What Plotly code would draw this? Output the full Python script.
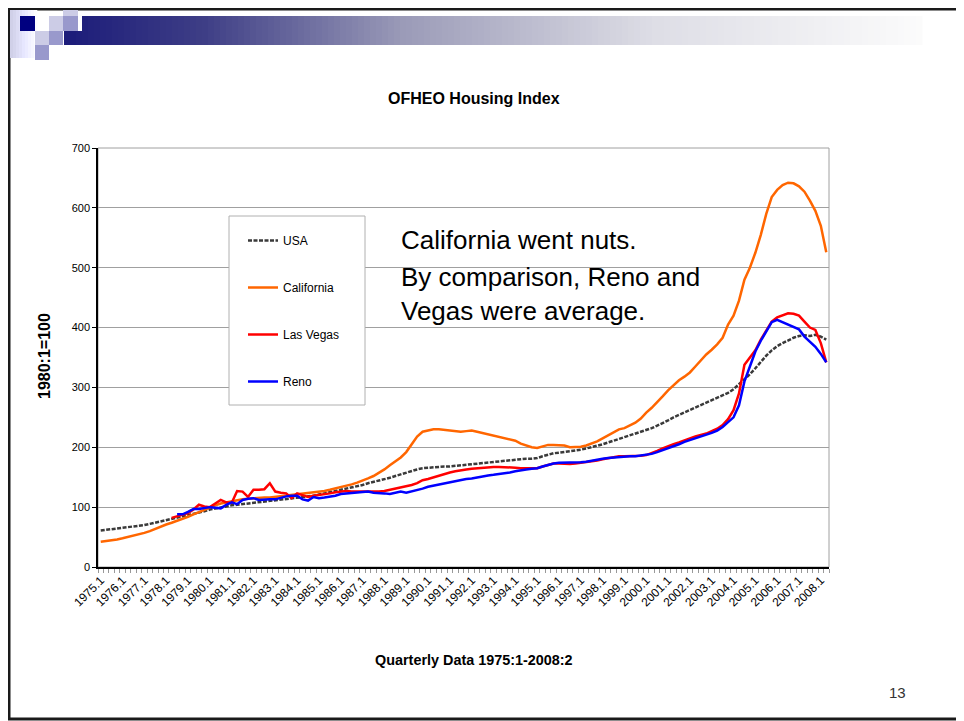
import plotly.graph_objects as go

# the page puts the plot div 8px in from the top-left corner
OFF = 8
W, H = 964 - OFF, 721 - OFF

# quarterly labels 1975.1 ... 2008.2
quarters = [f"{y}.{q}" for y in range(1975, 2009) for q in range(1, 5)][:134]

usa = [61, 62, 63, 64, 65, 66, 67, 68, 70, 72, 74, 76, 78, 80, 82, 84,
       86, 88, 90, 93, 96, 98, 100, 101, 103, 104, 105, 106, 107, 108, 109, 110,
       112, 113, 114, 115, 116, 117, 118, 119, 121, 123, 124, 126, 128, 130, 132, 134,
       137, 140, 142, 145, 147, 149, 152, 155, 157, 160, 163, 165, 166, 167, 167, 168,
       168, 169, 170, 171, 172, 173, 173, 174, 175, 176, 177, 178, 179, 180, 181, 181,
       182, 185, 188, 190, 191, 192, 193, 194, 196, 198, 200, 202, 205, 208, 211, 213,
       216, 219, 222, 225, 228, 232, 236, 240, 245, 250, 254, 258, 262, 266, 270, 274,
       278, 282, 286, 291, 297, 305, 313, 322, 332, 343, 353, 362, 369, 374, 379, 383,
       386, 387, 386, 388, 385, 380]

california = [42, 43, 44, 46, 48, 50, 52, 54, 57, 60, 64, 68, 71, 74, 77, 80,
              84, 88, 92, 96, 100, 103, 106, 108, 110, 112, 113, 114, 115, 115, 116, 116,
              117, 118, 119, 120, 121, 122, 123, 124, 125, 127, 129, 131, 133, 135, 138, 141,
              144, 148, 152, 157, 163, 170, 176, 183, 192, 205, 218, 226, 228, 230, 230, 229,
              228, 227, 226, 227, 228, 226, 224, 222, 220, 217, 215, 213, 211, 206, 203, 200,
              199, 202, 204, 204, 204, 203, 200, 200, 201, 203, 206, 210, 215, 220, 226, 230,
              232, 236, 241, 248, 258, 266, 275, 285, 295, 304, 312, 318, 325, 335, 345, 355,
              363, 372, 383, 405, 420, 445, 480, 500, 525, 555, 590, 618, 630, 638, 642, 641,
              636, 627, 612, 595, 570, 526]

las_vegas = [None] * 13 + [
    82, 85, 88, 90, 96, 104, 101, 100, 106, 112, 108, 107, 127, 126, 117, 129,
    129, 130, 140, 126, 124, 123, 115, 123, 120, 117, 119, 120, 121, 123, 125, 126,
    127, 126, 126, 126, 125, 126, 126, 127, 129, 130, 132, 134, 137, 140, 145, 147,
    150, 153, 156, 158, 160, 162, 163, 164, 165, 166, 166, 167, 167, 167, 166, 166,
    165, 165, 165, 165, 168, 171, 173, 173, 172, 172, 173, 174, 175, 176, 178, 180,
    182, 184, 185, 185, 185, 185, 186, 187, 190, 194, 198, 202, 205, 208, 212, 215,
    218, 220, 223, 227, 231, 237, 247, 262, 290, 338, 350, 362, 380, 395, 410, 417,
    421, 424, 423, 420, 410, 400, 396, 374, 342]

reno = [None] * 14 + [
    88, 88, 92, 97, 97, 98, 100, 99, 98, 104, 108, 105, 112, 114, 115, 112,
    113, 113, 113, 116, 118, 119, 119, 113, 111, 117, 115, 116, 117, 119, 122, 123,
    124, 124, 126, 126, 124, 124, 123, 122, 124, 126, 124, 126, 129, 131, 134, 136,
    138, 140, 141, 143, 145, 147, 148, 150, 151, 153, 154, 155, 157, 158, 160, 162,
    163, 164, 165, 168, 171, 173, 174, 174, 174, 174, 175, 176, 178, 180, 181, 182,
    183, 184, 185, 185, 185, 186, 187, 189, 192, 195, 198, 201, 205, 209, 212, 215,
    218, 220, 224, 228, 234, 242, 250, 270, 310, 335, 360, 378, 393, 409, 413, 409,
    405, 402, 397, 385, 377, 368, 356, 342]

series = [
    ("USA", usa, "#3a3a3a", "4px,1.5px"),
    ("California", california, "#FF6600", "solid"),
    ("Las Vegas", las_vegas, "#FF0000", "solid"),
    ("Reno", reno, "#0000FF", "solid"),
]

FONT = "Arial, Liberation Sans, sans-serif"


def px(x):
    # window pixel -> paper fraction
    return (x - OFF) / W


def py(y):
    return 1 - (y - OFF) / H


xs = list(range(len(quarters)))

fig = go.Figure()
for name, vals, color, dash in series:
    fig.add_trace(go.Scatter(
        x=xs, y=vals, mode="lines", name=name, legendgroup=name,
        line=dict(color=color, width=2.5, dash=dash),
        connectgaps=False,
    ))

tick_idx = [i for i, q in enumerate(quarters) if q.endswith(".1")]

shapes = []
# slide frame
shapes.append(dict(type="rect", xref="paper", yref="paper",
                   x0=px(9), x1=px(962), y0=py(719), y1=py(9),
                   line=dict(color="#1a1a1a", width=3)))

# header gradient bar (drawn as thin strips)
stops = [(64, (28, 28, 122)), (200, (62, 62, 134)), (400, (155, 155, 184)),
         (650, (222, 222, 230)), (920, (252, 252, 252))]
step = 6
x = 64
while x < 920:
    for (a, ca), (b, cb) in zip(stops[:-1], stops[1:]):
        if a <= x < b:
            t = (x - a) / (b - a)
            c = tuple(int(ca[k] + t * (cb[k] - ca[k])) for k in range(3))
            break
    top = 16 if x >= 78 else 31
    shapes.append(dict(type="rect", xref="paper", yref="paper",
                       x0=px(x), x1=px(x + step + 0.5), y0=py(45), y1=py(top),
                       fillcolor=f"rgb{c}", line=dict(width=0)))
    x += step

# left fading block
for k in range(9):
    xx = 10 + k * 3
    v = int(208 + k * 5.5)
    shapes.append(dict(type="rect", xref="paper", yref="paper",
                       x0=px(xx), x1=px(xx + 3.3), y0=py(58), y1=py(10),
                       fillcolor=f"rgb({v},{v},{min(255, v + 24)})", line=dict(width=0)))

squares = [
    (63, 78, 10, 16, "#ccccE6"),
    (20, 35, 16, 31, "#000080"),
    (49, 63, 16, 31, "#ccccE6"),
    (63, 78, 16, 31, "#9999cc"),
    (35, 49, 31, 45, "#ccccE6"),
    (49, 63, 31, 45, "#9999cc"),
    (35, 49, 45, 60, "#9999cc"),
]
for x0, x1, y0, y1, col in squares:
    shapes.append(dict(type="rect", xref="paper", yref="paper",
                       x0=px(x0), x1=px(x1), y0=py(y1), y1=py(y0),
                       fillcolor=col, line=dict(width=0)))

# plot area border
shapes.append(dict(type="rect", xref="paper", yref="paper",
                   x0=px(98), x1=px(829), y0=py(567), y1=py(148),
                   line=dict(color="#a0a0a0", width=1), layer="below"))
# legend box
shapes.append(dict(type="rect", xref="paper", yref="paper",
                   x0=px(229), x1=px(365), y0=py(405), y1=py(216),
                   fillcolor="white", line=dict(color="#b0b0b0", width=1), layer="above"))

annotations = [
    dict(text="<b>OFHEO Housing Index</b>", x=px(474), y=py(99), font=dict(size=16)),
    dict(text="<b>1980:1=100</b>", x=px(44), y=py(356), textangle=-90, font=dict(size=16)),
    dict(text="<b>Quarterly Data 1975:1-2008:2</b>", x=px(474), y=py(660), font=dict(size=14.4)),
    dict(text="California went nuts.", x=px(399), y=py(240), xanchor="left",
         font=dict(size=26)),
    dict(text="By comparison, Reno and<br>Vegas were average.", x=px(399), y=py(294),
         xanchor="left", align="left", font=dict(size=26)),
    dict(text="13", x=px(897), y=py(692), font=dict(size=15, color="#333333")),
]
for a in annotations:
    a.setdefault("xref", "paper")
    a.setdefault("yref", "paper")
    a.setdefault("showarrow", False)
    a.setdefault("xanchor", "center")
    a.setdefault("yanchor", "middle")
    a["font"].setdefault("family", FONT)
    a["font"].setdefault("color", "black")

fig.update_layout(
    width=W, height=H, autosize=False,
    margin=dict(l=0, r=0, t=0, b=0, autoexpand=False),
    paper_bgcolor="white", plot_bgcolor="white",
    font=dict(family=FONT, color="black"),
    shapes=shapes, annotations=annotations,
    showlegend=True,
    legend=dict(x=px(243), y=py(226), xanchor="left", yanchor="top",
                bgcolor="rgba(0,0,0,0)", borderwidth=0, tracegroupgap=28,
                font=dict(family=FONT, size=12, color="black")),
    xaxis=dict(
        domain=[px(98), px(829)], range=[-0.5, len(quarters) - 0.5],
        tickmode="array", tickvals=tick_idx, ticktext=[quarters[i] for i in tick_idx],
        tickangle=-45, ticks="", showgrid=False, zeroline=False, automargin=False,
        showline=True, linecolor="black", linewidth=1.5,
        tickfont=dict(size=12, family=FONT),
        minor=dict(tickmode="linear", tick0=-0.5, dtick=1, ticks="outside",
                   ticklen=4, tickcolor="#999999", showgrid=False),
    ),
    yaxis=dict(
        domain=[py(567), py(148)], range=[0, 700], dtick=100, automargin=False,
        ticks="outside", ticklen=4, tickcolor="black",
        showgrid=True, gridcolor="#a0a0a0", gridwidth=1, zeroline=False,
        showline=True, linecolor="black", linewidth=1.5,
        tickfont=dict(size=11, family=FONT),
    ),
)

fig.write_html("out.html")
